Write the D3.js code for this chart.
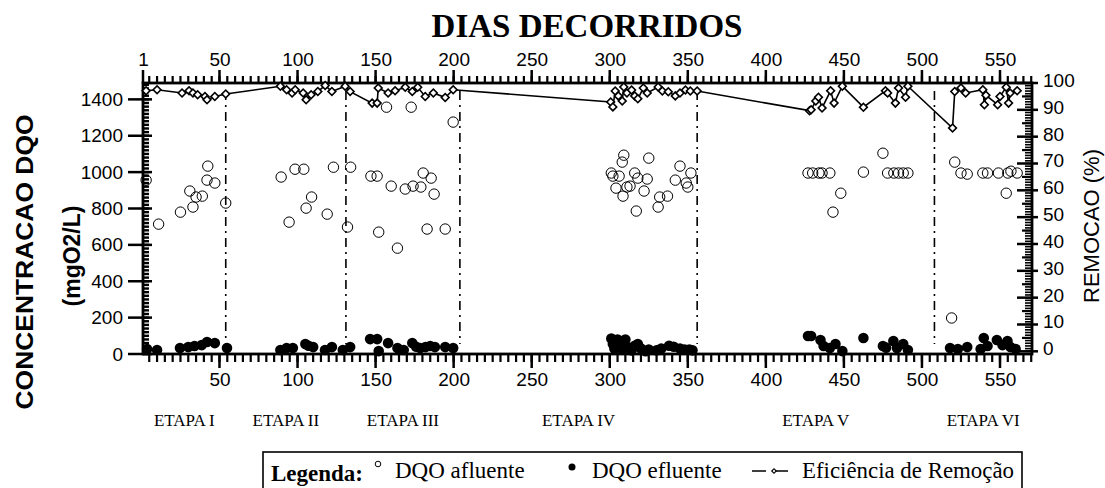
<!DOCTYPE html>
<html lang="pt">
<head>
<meta charset="utf-8">
<title>DQO e Remoção</title>
<script src="https://d3js.org/d3.v7.min.js"></script>
<style>
  body { margin: 0; background: #fff; }
  svg text { fill: #000; }
</style>
</head>
<body>
<div id="chart"></div>
<script>
// ---- data ----
const afluenteDias = [3, 11, 25, 31, 33, 35, 39, 42, 42.5, 47, 54,
  89.5, 94.6, 98.4, 104, 105.5, 109, 119, 123, 132, 134,
  147, 151, 152, 157, 160, 164, 169, 172.8, 174, 179, 180.5, 183, 185.6, 187.5, 194.6, 199.7,
  301, 302, 304, 306, 308, 308.5, 309, 311, 313, 316, 317, 318, 322, 324, 325, 331, 332, 337, 342, 345, 349, 350, 352,
  427, 430, 434, 436, 441, 443, 448, 462.5, 475, 478, 482, 485, 488, 491,
  519, 521, 525, 529, 539, 542, 549, 554, 555, 557, 561];
const afluenteDQO = [956, 714, 780, 896, 808, 863, 868, 956, 1033, 940, 830,
  973, 725, 1016, 1016, 802, 863, 769, 1027, 698, 1027,
  978, 978, 670, 1357, 923, 582, 907, 1357, 923, 918, 995, 687, 967, 879, 687, 1275,
  995, 978, 912, 978, 1055, 868, 1093, 918, 923, 995, 786, 967, 896, 962, 1077, 808, 863, 868, 956, 1033, 940, 918, 995,
  995, 995, 995, 995, 995, 780, 884, 1000, 1104, 995, 995, 995, 995, 995,
  198, 1055, 995, 989, 995, 995, 995, 884, 995, 1005, 995];

const efluenteDias = [3.6, 10, 24.7, 30, 34, 38.6, 42, 47, 54.8,
  89, 93, 97, 105, 107, 110, 117.6, 122, 129, 133.7,
  146.5, 151, 152, 158, 164, 168, 173.5, 176, 178.6, 182, 185, 188, 194.6, 199.7,
  301, 302, 303, 305, 306, 308, 309, 310, 312, 314, 316, 318, 320, 323, 325, 330, 333, 338, 341, 345, 348, 351, 353,
  427, 429, 435, 437, 441, 444.6, 449, 462.5, 475, 477, 481.7, 484, 488, 491,
  518, 523, 529, 537.6, 539.6, 542, 548, 551.6, 554.8, 556.7, 560];
const efluenteDQO = [27, 22, 33, 38, 44, 49, 66, 60, 33,
  22, 33, 33, 55, 45, 38, 22, 38, 22, 38,
  82, 82, 16, 60, 33, 22, 60, 40, 33, 38, 44, 38, 38, 33,
  85, 55, 30, 80, 40, 25, 60, 80, 35, 20, 45, 55, 30, 15, 25, 20, 30, 45, 40, 30, 25, 25, 20,
  99, 99, 77, 44, 33, 55, 16, 88, 44, 35, 71, 33, 55, 22,
  33, 27, 38, 27, 88, 44, 77, 49, 71, 38, 27];

const remocaoDias = [3, 10, 26, 30.5, 33, 36, 40.7, 42, 47, 54,
  89, 93, 96.5, 98.5, 103.6, 105.5, 108.7, 113, 117.7, 122, 130.5, 133.7,
  147.8, 151, 151.7, 158, 162.5, 169, 173.5, 177, 181.8, 187, 194.6, 199.7,
  300.6, 302, 303.5, 305.5, 308, 309, 311, 314, 316, 318, 321.5, 324, 331, 333.7, 337.5, 342, 345, 348.5, 351.6, 356,
  428, 429, 432, 433.7, 436, 441.5, 443.7, 449, 462.5, 476.6, 478, 483, 485, 489.5, 491,
  519.6, 521, 525, 528, 539, 540, 541, 548.5, 550, 554, 555.5, 556.5, 561];
const remocaoPct = [97.1, 97.5, 96.3, 97.1, 96.3, 95.6, 95.0, 93.8, 95.0, 95.9,
  98.8, 97.5, 96.3, 97.5, 96.3, 93.8, 95.6, 96.8, 99.1, 96.8, 98.8, 96.8,
  92.5, 92.5, 98.1, 96.3, 97.1, 98.4, 96.8, 98.4, 95.0, 96.3, 94.6, 97.5,
  92.9, 91.1, 97.0, 95.2, 93.3, 98.5, 96.3, 97.4, 95.2, 94.1, 98.1, 96.3, 98.5, 97.0, 96.7, 95.2, 96.3, 97.4, 97.0, 97.0,
  89.7, 90.0, 93.3, 94.7, 90.7, 97.1, 92.5, 98.8, 91.0, 97.1, 96.3, 92.5, 98.1, 94.7, 98.8,
  83.2, 96.8, 98.1, 96.3, 97.5, 91.9, 95.4, 91.9, 95.0, 98.4, 92.5, 96.3, 97.1];

const etapaLimites = [54, 131, 204, 356, 508];
const etapaNomes = ["ETAPA I", "ETAPA II", "ETAPA III", "ETAPA IV", "ETAPA V", "ETAPA VI"];

const diasTicksTopo = [1, 50, 100, 150, 200, 250, 300, 350, 400, 450, 500, 550];
const diasTicksBase = [50, 100, 150, 200, 250, 300, 350, 400, 450, 500, 550];
const dqoTicks = [0, 200, 400, 600, 800, 1000, 1200, 1400];
const remocaoTicks = [0, 10, 20, 30, 40, 50, 60, 70, 80, 90, 100];

// ---- chart ----
const width = 1105, height = 488;
const margin = { left: 143, right: 1032, top: 83, bottom: 354 };

const svg = d3.select("#chart").append("svg")
    .attr("width", width)
    .attr("height", height);

const x = d3.scaleLinear().domain([1, 570.5]).range([margin.left, margin.right]);
const yL = d3.scaleLinear().domain([0, 1490]).range([margin.bottom, margin.top]);
const yR = d3.scaleLinear().domain([-1, 100]).range([margin.bottom, margin.top]);

const sans = "'Liberation Sans', Arial, sans-serif";
const serif = "'Liberation Serif', 'Times New Roman', serif";

// stage separators (dash-dot)
svg.append("g").selectAll("line")
    .data(etapaLimites)
    .join("line")
    .attr("x1", d => x(d)).attr("x2", d => x(d))
    .attr("y1", margin.top + 8).attr("y2", margin.bottom - 10)
    .attr("stroke", "#000")
    .attr("stroke-width", 1.6)
    .attr("stroke-dasharray", "9,5,2,5");

// axis labels come from d3 axes; tick marks as small filled rects placed with the same scales
function styleAxis(g) {
    g.select(".domain").remove();
    g.selectAll("line").remove();
    g.selectAll("text").style("font-family", sans).style("font-size", "19px");
}

// vertical tick marks on a horizontal axis: from y=a, length len (negative = upward)
function hTicks(vals, a, len, w) {
    svg.append("g").selectAll("rect")
        .data(vals)
        .join("rect")
        .attr("x", d => x(d) - w / 2)
        .attr("y", len < 0 ? a + len : a)
        .attr("width", w)
        .attr("height", Math.abs(len))
        .attr("fill", "#000");
}

// horizontal tick marks on a vertical axis: from x=a to x=b
function vTicks(vals, scale, a, b, w) {
    svg.append("g").selectAll("rect")
        .data(vals)
        .join("rect")
        .attr("x", Math.min(a, b))
        .attr("y", d => scale(d) - w / 2)
        .attr("width", Math.abs(b - a))
        .attr("height", w)
        .attr("fill", "#000");
}

// top axis
svg.append("g").attr("transform", `translate(0,${margin.top})`)
    .call(d3.axisTop(x).tickValues(diasTicksTopo).tickSize(0).tickPadding(17).tickFormat(d3.format("d")))
    .call(styleAxis);
hTicks(d3.range(5, 571, 5), margin.top, -7, 2.2);
hTicks(diasTicksTopo, margin.top, -13, 2.5);

// bottom axis
svg.append("g").attr("transform", `translate(0,${margin.bottom})`)
    .call(d3.axisBottom(x).tickValues(diasTicksBase).tickSize(0).tickPadding(19).tickFormat(d3.format("d")))
    .call(styleAxis);
hTicks(d3.range(5, 571, 5), margin.bottom, 8, 2.2);
hTicks(diasTicksBase, margin.bottom, 14, 2.5);

// left axis
svg.append("g").attr("transform", `translate(${margin.left},0)`)
    .call(d3.axisLeft(yL).tickValues(dqoTicks).tickSize(0).tickPadding(20).tickFormat(d3.format("d")))
    .call(styleAxis);
vTicks(d3.range(0, 1490, 20), yL, margin.left, margin.left + 6, 2.4);
vTicks(dqoTicks, yL, margin.left - 15, margin.left + 9, 2.5);

// right axis
svg.append("g").attr("transform", `translate(${margin.right},0)`)
    .call(d3.axisRight(yR).tickValues(remocaoTicks).tickSize(0).tickPadding(11).tickFormat(d3.format("d")))
    .call(styleAxis)
    .call(g => g.selectAll("text").attr("dy", "0.18em"));
vTicks(d3.range(0, 101, 1), yR, margin.right, margin.right - 7, 1.6);
vTicks(d3.range(5, 100, 10), yR, margin.right, margin.right - 10, 2.2);
vTicks(remocaoTicks, yR, margin.right - 15, margin.right + 6, 2.5);

// frame
svg.append("rect")
    .attr("x", margin.left).attr("y", margin.top)
    .attr("width", margin.right - margin.left).attr("height", margin.bottom - margin.top)
    .attr("fill", "none").attr("stroke", "#000").attr("stroke-width", 2.8);

// DQO afluente (open circles)
const afluente = afluenteDias.map((d, i) => ({ dia: d, v: afluenteDQO[i] }));
svg.append("g").selectAll("circle")
    .data(afluente)
    .join("circle")
    .attr("cx", d => x(d.dia)).attr("cy", d => yL(d.v))
    .attr("r", 5.2)
    .attr("fill", "none").attr("stroke", "#000").attr("stroke-width", 1);

// DQO efluente (filled circles)
const efluente = efluenteDias.map((d, i) => ({ dia: d, v: efluenteDQO[i] }));
svg.append("g").selectAll("circle")
    .data(efluente)
    .join("circle")
    .attr("cx", d => x(d.dia)).attr("cy", d => yL(d.v))
    .attr("r", 5.3)
    .attr("fill", "#000");

// removal efficiency line + diamonds
const remocao = remocaoDias.map((d, i) => ({ dia: d, v: remocaoPct[i] }));
svg.append("path")
    .datum(remocao)
    .attr("fill", "none").attr("stroke", "#000").attr("stroke-width", 1.6)
    .attr("d", d3.line().x(d => x(d.dia)).y(d => yR(d.v)));

const diamond = d3.symbol().type(d3.symbolSquare).size(30);
svg.append("g").selectAll("path")
    .data(remocao)
    .join("path")
    .attr("d", diamond)
    .attr("transform", d => `translate(${x(d.dia)},${yR(d.v)}) rotate(45)`)
    .attr("fill", "#fff").attr("stroke", "#000").attr("stroke-width", 1.6);

// stage labels
const etapaBordas = [1, ...etapaLimites, 570.5];
svg.append("g").selectAll("text")
    .data(etapaNomes)
    .join("text")
    .attr("x", (d, i) => x((etapaBordas[i] + etapaBordas[i + 1]) / 2))
    .attr("y", 426)
    .attr("text-anchor", "middle")
    .style("font-family", serif).style("font-size", "17px")
    .text(d => d);

// titles
svg.append("text")
    .attr("x", 587).attr("y", 37)
    .attr("text-anchor", "middle")
    .style("font-family", serif).style("font-size", "33px").style("font-weight", "bold")
    .text("DIAS DECORRIDOS");

svg.append("text")
    .attr("transform", "translate(33,262) rotate(-90)")
    .attr("text-anchor", "middle")
    .attr("textLength", 295).attr("lengthAdjust", "spacingAndGlyphs")
    .style("font-family", sans).style("font-size", "23px").style("font-weight", "bold")
    .text("CONCENTRACAO DQO");

svg.append("text")
    .attr("transform", "translate(80,256) rotate(-90)")
    .attr("text-anchor", "middle")
    .style("font-family", sans).style("font-size", "23px").style("font-weight", "bold")
    .text("(mgO2/L)");

svg.append("text")
    .attr("transform", "translate(1099,226) rotate(-90)")
    .attr("text-anchor", "middle")
    .style("font-family", sans).style("font-size", "22px")
    .text("REMOCAO (%)");

// legend
const legenda = svg.append("g");
legenda.append("rect")
    .attr("x", 263).attr("y", 452)
    .attr("width", 759).attr("height", 45)
    .attr("fill", "none").attr("stroke", "#000").attr("stroke-width", 1.6);
legenda.append("text")
    .attr("x", 271).attr("y", 481)
    .style("font-family", serif).style("font-size", "23px").style("font-weight", "bold")
    .text("Legenda:");
legenda.append("circle")
    .attr("cx", 378).attr("cy", 464).attr("r", 2.8)
    .attr("fill", "none").attr("stroke", "#000").attr("stroke-width", 1);
legenda.append("text")
    .attr("x", 395).attr("y", 478)
    .style("font-family", serif).style("font-size", "23px")
    .text("DQO afluente");
legenda.append("circle")
    .attr("cx", 572).attr("cy", 467).attr("r", 3.5)
    .attr("fill", "#000");
legenda.append("text")
    .attr("x", 592).attr("y", 478)
    .style("font-family", serif).style("font-size", "23px")
    .text("DQO efluente");
legenda.append("line")
    .attr("x1", 752).attr("x2", 796).attr("y1", 471).attr("y2", 471)
    .attr("stroke", "#000").attr("stroke-width", 1.6).attr("stroke-dasharray", "14,8,14");
legenda.append("path")
    .attr("d", d3.symbol().type(d3.symbolSquare).size(10))
    .attr("transform", "translate(774,471) rotate(45)")
    .attr("fill", "#fff").attr("stroke", "#000").attr("stroke-width", 1.2);
legenda.append("text")
    .attr("x", 802).attr("y", 478)
    .attr("textLength", 212).attr("lengthAdjust", "spacingAndGlyphs")
    .style("font-family", serif).style("font-size", "23px")
    .text("Eficiência de Remoção");
</script>
</body>
</html>
